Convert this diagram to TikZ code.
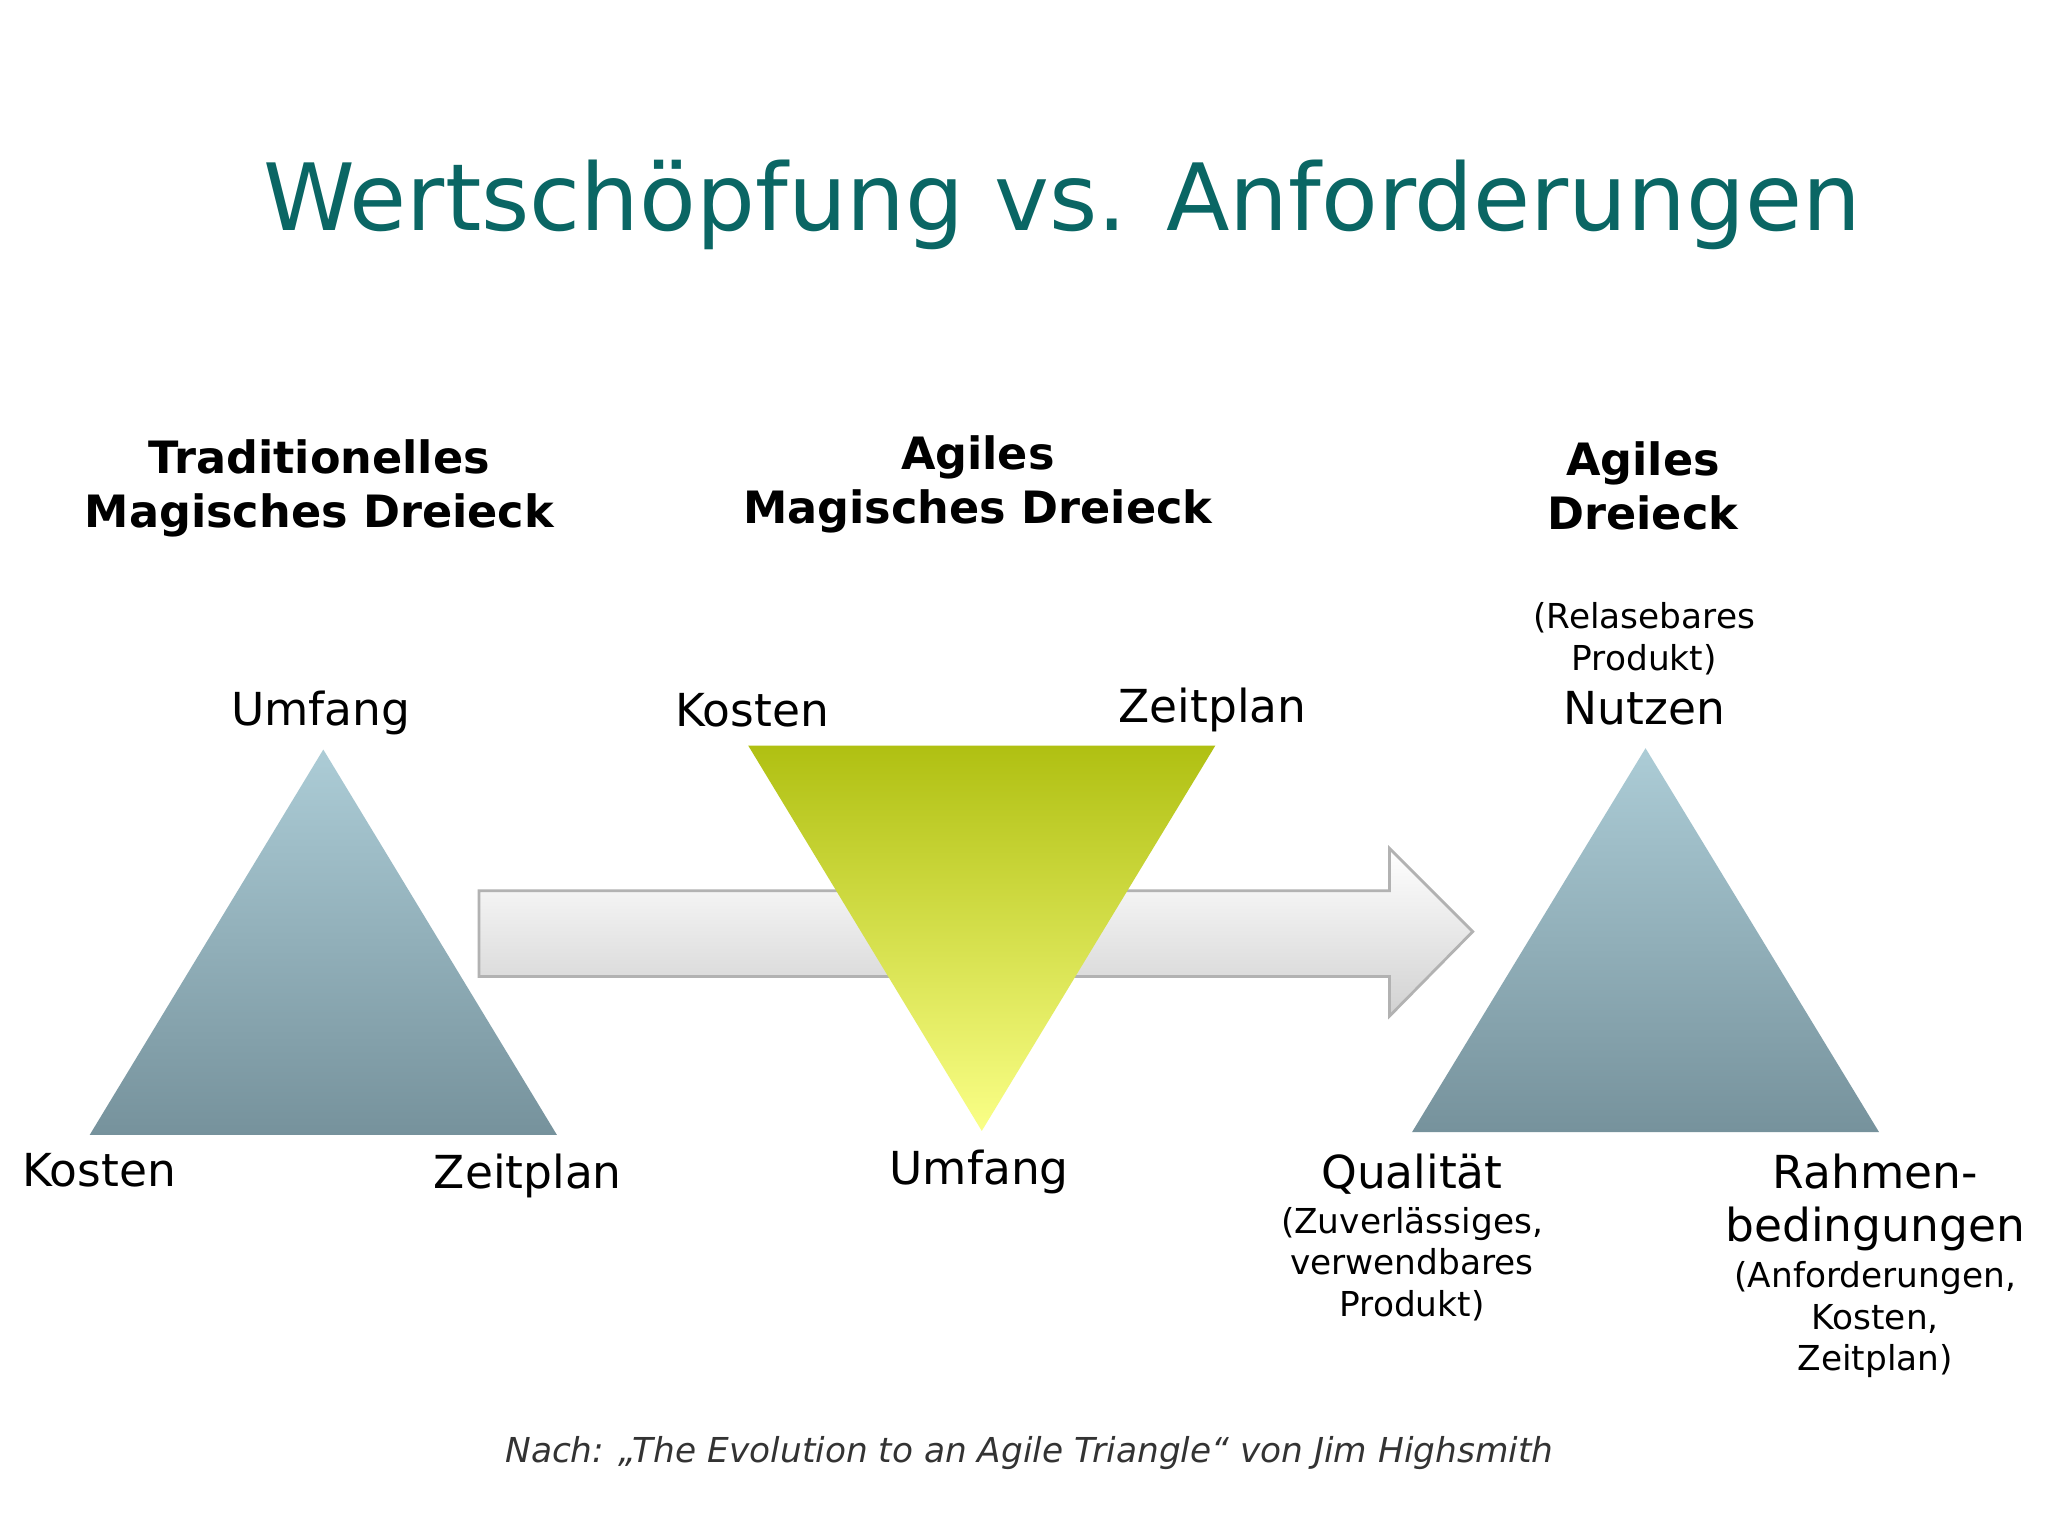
\documentclass[tikz,border=0pt]{standalone}
\usepackage{fontspec}
\setmainfont{DejaVu Sans}
\begin{document}
\begin{tikzpicture}[x=0.01cm,y=-0.01cm,
  lbl/.style={font=\fontsize{9.8pt}{11.5pt}\selectfont,align=center},
  head/.style={font=\bfseries\fontsize{9.6pt}{11.6pt}\selectfont,align=center},
  small/.style={font=\fontsize{7.4pt}{8.9pt}\selectfont,align=center}]
\definecolor{teal}{RGB}{10,102,100}
\definecolor{blT}{RGB}{172,204,214}
\definecolor{blB}{RGB}{118,146,156}
\definecolor{grT}{RGB}{176,192,18}
\definecolor{grB}{RGB}{250,255,135}
\useasboundingbox (0,0) rectangle (1552,1164);
\fill[white] (0,0) rectangle (1552,1164);
\node[text=teal,font=\fontsize{20pt}{24pt}\selectfont] (title) at (805,155) {Wertschöpfung vs. Anforderungen};
% arrow
\shade[top color=white,bottom color=black!18,draw=black!30,line width=0.6pt]
 (363,675) -- (1053,675) -- (1053,643) -- (1116,706) -- (1053,770) -- (1053,740) -- (363,740) -- cycle;
% triangles
\shade[top color=blT,bottom color=blB] (245,568) -- (422,860) -- (68,860) -- cycle;
\shade[top color=grT,bottom color=grB] (567,565) -- (921,565) -- (744,857) -- cycle;
\shade[top color=blT,bottom color=blB] (1247,567) -- (1424,858) -- (1070,858) -- cycle;
% headings
\node[head] (h1) at (242,370) {Traditionelles\\Magisches Dreieck};
\node[head] (h2) at (741,367) {Agiles\\Magisches Dreieck};
\node[head] (h3) at (1245,368) {Agiles\\Dreieck};
% labels
\node[lbl] (u1) at (243,540) {Umfang};
\node[lbl] (k1) at (75,887) {Kosten};
\node[lbl] (z1) at (400,891) {Zeitplan};
\node[lbl] (k2) at (570,538) {Kosten};
\node[lbl] (z2) at (919,538) {Zeitplan};
\node[lbl] (u2) at (742,888) {Umfang};
\node[small] (rp) at (1246,484) {(Relasebares\\Produkt)};
\node[lbl] (nu) at (1246,537) {Nutzen};
\node[lbl] (qu) at (1070,890) {Qualität};
\node[small] (qs) at (1070,958) {(Zuverlässiges,\\verwendbares\\Produkt)};
\node[lbl] (rb) at (1421,911) {Rahmen-\\bedingungen};
\node[small] (rs) at (1421,1000) {(Anforderungen,\\Kosten,\\Zeitplan)};
\node[font=\itshape\fontsize{7.4pt}{9pt}\selectfont,text=black!80] (ft) at (780,1101) {Nach: „The Evolution to an Agile Triangle“ von Jim Highsmith};
\end{tikzpicture}
\end{document}
